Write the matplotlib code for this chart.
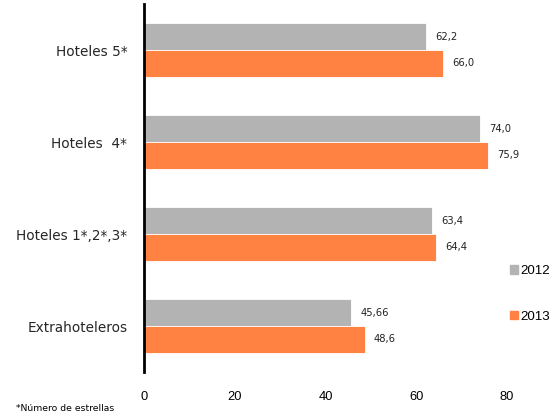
import matplotlib.pyplot as plt
import matplotlib.patches as mpatches
import numpy as np

categorias = ['Hoteles 5*', 'Hoteles  4*', 'Hoteles 1*,2*,3*', 'Extrahoteleros']
valores_2012 = [62.2, 74.0, 63.4, 45.66]
valores_2013 = [66.0, 75.9, 64.4, 48.6]
etiquetas_2012 = ['62,2', '74,0', '63,4', '45,66']
etiquetas_2013 = ['66,0', '75,9', '64,4', '48,6']
ticks_x = [0, 20, 40, 60, 80]

gris = '#B3B3B3'
naranja = '#FF8243'

fig = plt.figure(figsize=(5.56, 4.19), dpi=100)
ax = fig.add_axes([144/556, 47/419, 363/556, 368/419])

y = np.arange(len(categorias))
h = 0.29
ax.barh(y - h/2, valores_2012, height=h, color=gris, edgecolor='white', linewidth=0.6)
ax.barh(y + h/2, valores_2013, height=h, color=naranja, edgecolor='white', linewidth=0.6)

for i in range(len(categorias)):
	ax.text(valores_2012[i] + 2, y[i] - h/2, etiquetas_2012[i], va='center', ha='left',
		fontsize=7.2, family='DejaVu Sans', color='#222222')
	ax.text(valores_2013[i] + 2, y[i] + h/2, etiquetas_2013[i], va='center', ha='left',
		fontsize=7.2, family='DejaVu Sans', color='#222222')

ax.set_xlim(0, 80)
ax.set_ylim(3.5, -0.5)
ax.set_yticks(y)
ax.set_yticklabels(categorias, fontsize=9.8, family='DejaVu Sans', color='#262626')
ax.set_xticks(ticks_x)
ax.set_xticklabels([str(t) for t in ticks_x], fontsize=9.3, family='Liberation Sans')
ax.tick_params(axis='both', length=0)
ax.tick_params(axis='x', pad=14)
ax.tick_params(axis='y', pad=12)

for s in ['top', 'right', 'bottom']:
	ax.spines[s].set_visible(False)
ax.spines['left'].set_linewidth(2)
ax.spines['left'].set_color('black')

handles = [mpatches.Patch(color=gris), mpatches.Patch(color=naranja)]
fig.legend(handles, ['2012', '2013'], loc='center left',
	bbox_to_anchor=(510/556, 1 - 294/419), frameon=False,
	handlelength=0.6, handleheight=0.6, handletextpad=0.2,
	labelspacing=2.5, borderpad=0, borderaxespad=0,
	prop={'family': 'Liberation Sans', 'size': 9.6})

fig.text(16/556, 1 - 408/419, '*Número de estrellas', fontsize=6.7,
	family='DejaVu Sans', va='center', ha='left')

fig.savefig('out.png', dpi=100)
